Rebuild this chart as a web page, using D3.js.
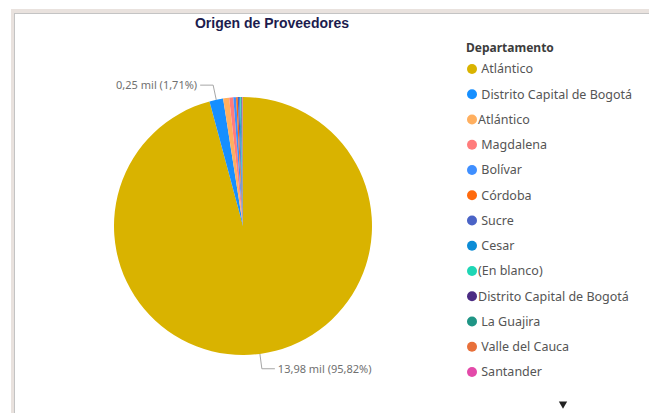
<!DOCTYPE html>
<html>
<head>
<meta charset="utf-8">
<script src="https://cdn.jsdelivr.net/npm/d3@7"></script>
<style>
  body { margin: 0; background: #fff; }
  svg { display: block; }
  .legend text { white-space: pre; }
</style>
</head>
<body>
<div class="chart"></div>
<script>
// categories (leading space kept as in the source data)
const departamentos = [
    " Atlántico", " Distrito Capital de Bogotá", "Atlántico", " Magdalena", " Bolívar",
    " Córdoba", " Sucre", " Cesar", "(En blanco)", "Distrito Capital de Bogotá",
    " La Guajira", " Valle del Cauca", " Santander"
];
// proveedores, in miles
const valores = [13.98, 0.25, 0.11, 0.075, 0.05, 0.03, 0.025, 0.02, 0.015, 0.01, 0.01, 0.008, 0.007];
const colores = [
    "#D9B300", "#168FFF", "#FFAF5F", "#FF7C7C", "#3F8FFF", "#FF6A0D", "#4A63C6",
    "#0C8CD6", "#1FD6B5", "#4B2C83", "#1F9585", "#E8703A", "#E34AA9"
];

const width = 649;
const height = 413;

const svg = d3.select(".chart")
    .append("svg")
    .attr("width", width)
    .attr("height", height);

// report frame
svg.append("rect").attr("x", 11).attr("y", 9).attr("width", width - 11).attr("height", 5).attr("fill", "#E9E2DE");
svg.append("rect").attr("x", 11).attr("y", 9).attr("width", 4).attr("height", height - 9).attr("fill", "#E9E2DE");
svg.append("rect").attr("x", 14).attr("y", 13).attr("width", width - 14).attr("height", 1).attr("fill", "#C4C4C4");
svg.append("rect").attr("x", 14).attr("y", 13).attr("width", 1).attr("height", height - 13).attr("fill", "#C4C4C4");

svg.append("text")
    .attr("x", 272)
    .attr("y", 28)
    .attr("text-anchor", "middle")
    .style("font-family", "'Liberation Sans', Arial, sans-serif")
    .style("font-weight", "bold")
    .style("font-size", "14px")
    .style("fill", "#1C1C4E")
    .text("Origen de Proveedores");

const cx = 243, cy = 226, radius = 129;
const total = d3.sum(valores);
const locale = d3.formatLocale({ decimal: ",", thousands: ".", grouping: [3], currency: ["$", ""] });
const fmt = locale.format(".2f");

const pie = d3.pie().sort(null).value(d => d);
const arcs = pie(valores);
const arc = d3.arc().innerRadius(0).outerRadius(radius);

const g = svg.append("g").attr("transform", `translate(${cx},${cy})`);

g.selectAll(".slice")
    .data(arcs)
    .enter()
    .append("path")
    .attr("class", "slice")
    .attr("d", arc)
    .attr("fill", (d, i) => colores[i]);

// data labels for the slices big enough to carry one
const labelArcs = arcs.filter(d => d.value / total > 0.01);
const edge = d3.arc().innerRadius(radius).outerRadius(radius);
const elbow = d3.arc().innerRadius(radius + 15).outerRadius(radius + 15);

labelArcs.forEach(d => {
    const a = edge.centroid(d);
    const b = elbow.centroid(d);
    const right = b[0] > 0;
    const c = [b[0] + (right ? 13 : -13), b[1]];
    g.append("polyline")
        .attr("points", [a, b, c].map(p => p.join(",")).join(" "))
        .attr("fill", "none")
        .attr("stroke", "#A6A6A6")
        .attr("stroke-width", 1);
    g.append("text")
        .attr("x", c[0] + (right ? 3 : -3))
        .attr("y", c[1])
        .attr("dy", "0.35em")
        .attr("text-anchor", right ? "start" : "end")
        .style("font-family", "'Noto Sans', sans-serif")
        .style("font-size", "11px")
        .style("fill", "#707070")
        .text(`${fmt(d.value)} mil (${fmt(d.value / total * 100)}%)`);
});

// legend
const legend = svg.append("g").attr("class", "legend");
legend.append("text")
    .attr("x", 466)
    .attr("y", 52)
    .style("font-family", "'Noto Sans', sans-serif")
    .style("font-weight", "bold")
    .style("font-size", "12px")
    .style("fill", "#3C3C3C")
    .text("Departamento");

const ly = d3.scalePoint().domain(d3.range(departamentos.length)).range([69, 372]);

const items = legend.selectAll(".item")
    .data(departamentos)
    .enter()
    .append("g")
    .attr("class", "item")
    .attr("transform", (d, i) => `translate(472,${ly(i)})`);

items.append("circle")
    .attr("r", 5)
    .attr("fill", (d, i) => colores[i]);

items.append("text")
    .attr("x", 6)
    .attr("dy", "0.35em")
    .style("font-family", "'Noto Sans', sans-serif")
    .style("font-size", "12.5px")
    .style("fill", "#555")
    .text(d => d);

// scroll arrow
svg.append("path")
    .attr("d", d3.symbol().type(d3.symbolTriangle).size(30)())
    .attr("transform", "translate(563,404) rotate(180)")
    .attr("fill", "#222");
</script>
</body>
</html>
